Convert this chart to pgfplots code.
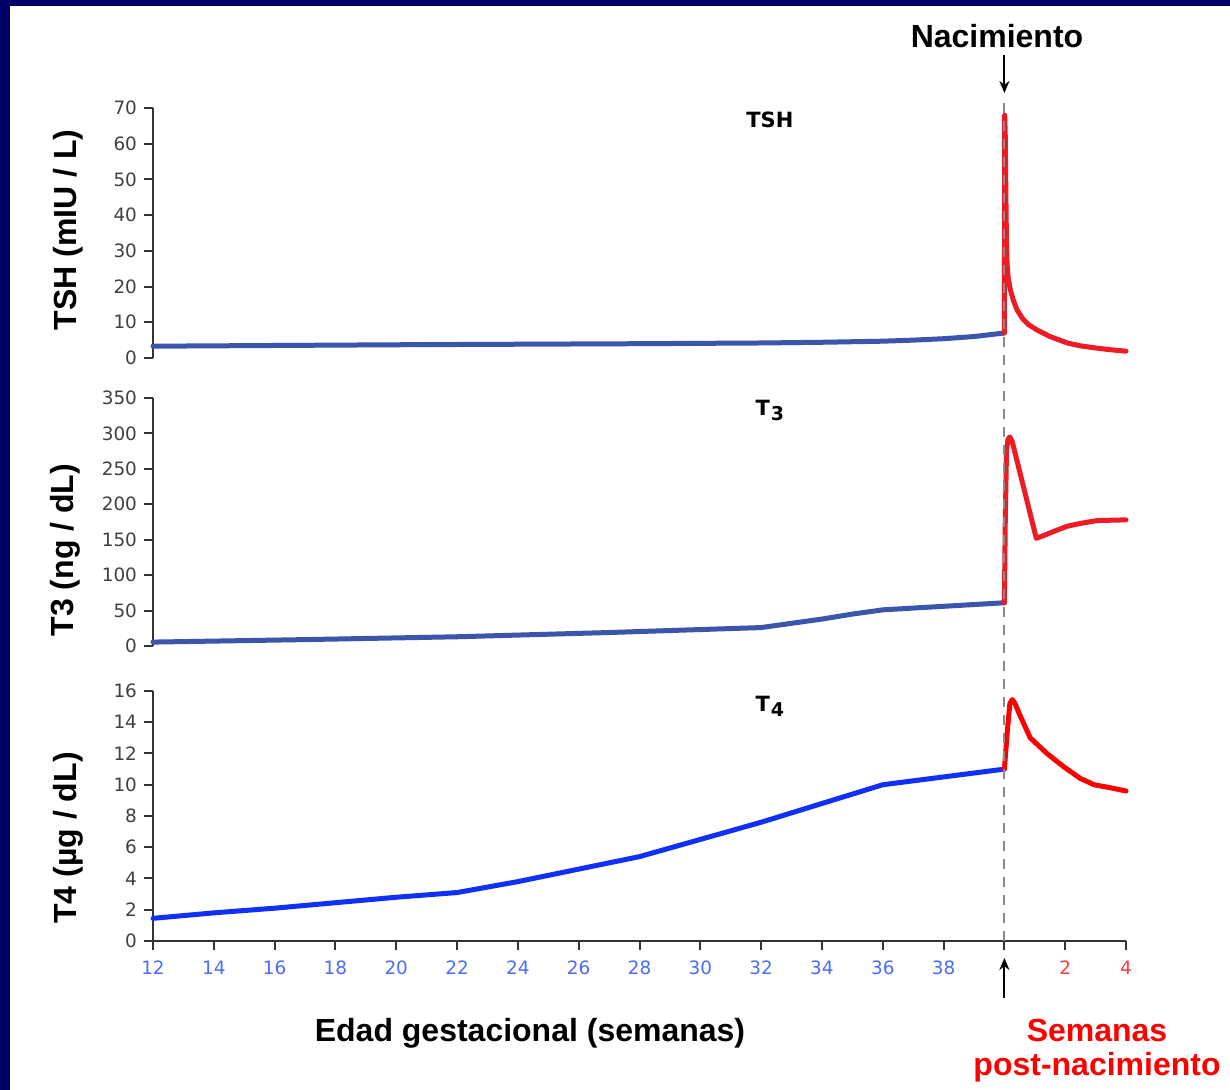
\documentclass[border=0pt]{standalone}
\usepackage{pgfplots}
\pgfplotsset{compat=1.18}
\usepackage{fontspec}
\setmainfont{Liberation Sans}
\newfontfamily\dv{DejaVu Sans}
\usetikzlibrary{arrows.meta}
\definecolor{navy}{HTML}{000066}
\definecolor{axisgray}{HTML}{333333}
\definecolor{tickgray}{HTML}{404040}
\definecolor{tickblue}{HTML}{4A6CFF}
\definecolor{tickred}{HTML}{FF3B3B}
\definecolor{curveblue}{HTML}{3A55AA}
\definecolor{t4blue}{HTML}{1030F8}
\definecolor{curvered}{HTML}{ED1C24}
\definecolor{dashgray}{HTML}{8A8A8A}

\tikzset{
  curve/.style={line width=2.5pt, line join=round, line cap=round},
  ttl/.style={font=\dv\bfseries\fontsize{10.5}{12}\selectfont},
}
\pgfplotsset{
  common/.style={
    scale only axis, width=486.5pt, xmin=12, xmax=44,
    axis y line*=left, tick align=outside, major tick length=4.5pt,
    axis line style={line width=1pt, color=axisgray},
    every tick/.style={line width=1pt, axisgray},
    yticklabel style={font=\dv\fontsize{9.2}{10}\selectfont, text=tickgray},
    xticklabel style={font=\dv\fontsize{9.2}{10}\selectfont, text=tickblue, yshift=-2pt},
    /pgf/number format/assume math mode=true,
    clip=false,
    every axis y label/.style={rotate=90, anchor=center, font=\bfseries\fontsize{16}{18}\selectfont},
  },
}

\begin{document}
\begin{tikzpicture}[x=1pt,y=1pt]
\useasboundingbox (0,0) rectangle (615,545);
\fill[white] (0,0) rectangle (615,545);
\fill[navy] (0,0) rectangle (5,545);
\fill[navy] (0,542) rectangle (615,545);

% ---------- TSH ----------
\begin{axis}[common, at={(76.5pt,366pt)}, anchor=south west, height=125pt,
  ymin=0, ymax=70, ytick={0,10,...,70}, axis x line=none, xtick=\empty,
  ylabel={TSH (mIU / L)},
  every axis y label/.append style={at={(axis description cs:-0.0874,0.512)}}]
\addplot[curve, curveblue] coordinates {
(12,3.3) (16,3.5) (20,3.7) (24,3.85) (28,4.0) (32,4.2) (34,4.4) (36,4.7) (37,5.0) (38,5.4) (39,6.0) (40,7.0)};
\addplot[curve, curvered] coordinates {
(40,7.0) (40.01,68) (40.03,62) (40.05,45) (40.07,32) (40.09,26) (40.13,22) (40.2,19) (40.3,16) (40.42,13.4) (40.6,11) (40.8,9.3) (41.08,7.8) (41.5,6.0) (42.07,4.2) (42.5,3.4) (43,2.8) (43.5,2.3) (44,1.9)};
\node[ttl] at (rel axis cs:0.634,0.952) {TSH};
\coordinate (btop) at (axis cs:40,73.6);
\end{axis}

% ---------- T3 ----------
\begin{axis}[common, at={(76.5pt,222pt)}, anchor=south west, height=124pt,
  ymin=0, ymax=350, ytick={0,50,...,350}, axis x line=none, xtick=\empty,
  ylabel={T3 (ng / dL)},
  every axis y label/.append style={at={(axis description cs:-0.09,0.387)}}]
\addplot[curve, curveblue] coordinates {
(12,5.5) (17,9) (22,13) (27,19) (32,26) (33,32) (34,38) (35,45) (36,51) (38,56) (40,61)};
\addplot[curve, curvered] coordinates {
(40,61) (40.03,180) (40.07,275) (40.12,292) (40.18,295) (40.26,288) (41.05,152) (41.3,156) (41.7,163) (42.07,169) (42.5,173) (43.05,177) (44,178)};
\node[ttl] at (rel axis cs:0.634,0.95) {T\kern0.5pt\raisebox{-2.5pt}{\fontsize{9.5}{10}\selectfont 3}};
\end{axis}

% ---------- T4 ----------
\begin{axis}[common, at={(76.5pt,74.5pt)}, anchor=south west, height=125pt,
  ymin=0, ymax=16, ytick={0,2,...,16}, axis x line*=bottom,
  xtick={12,14,...,44},
  xticklabels={12,14,16,18,20,22,24,26,28,30,32,34,36,38,,\textcolor{tickred}{2},\textcolor{tickred}{4}},
  ylabel={T4 (µg / dL)},
  every axis y label/.append style={at={(axis description cs:-0.0874,0.412)}}]
\addplot[curve, t4blue] coordinates {
(12,1.45) (14,1.8) (16,2.1) (18,2.45) (20,2.8) (22,3.1) (24,3.8) (26,4.6) (28,5.4) (30,6.5) (32,7.6) (34,8.8) (36,10.0) (38,10.5) (40,11.0)};
\addplot[curve, red] coordinates {
(40,11.0) (40.1,13.5) (40.18,15.2) (40.26,15.45) (40.35,15.2) (40.5,14.5) (40.85,13.0) (41.4,12.0) (41.95,11.15) (42.5,10.4) (42.95,10.0) (43.5,9.8) (44,9.6)};
\node[ttl] at (rel axis cs:0.634,0.94) {T\kern0.5pt\raisebox{-2.5pt}{\fontsize{9.5}{10}\selectfont 4}};
\coordinate (bbot) at (axis cs:40,0);
\end{axis}

\draw[dashgray, line width=1pt, dash pattern=on 5pt off 4pt] (bbot) -- (btop);
\draw[-{Stealth[length=6pt,width=5pt]}, line width=1pt] (502.2,517.5) -- (502.2,498.5);
\draw[-{Stealth[length=6pt,width=5pt]}, line width=1pt] (502.2,46) -- (502.2,66);

\node[font=\bfseries\fontsize{16}{18}\selectfont] at (498.5,527) {Nacimiento};
\node[font=\bfseries\fontsize{16}{18}\selectfont] at (265,28.5) {Edad gestacional (semanas)};
\node[font=\bfseries\fontsize{16}{18}\selectfont, text=red] at (548.5,30) {Semanas};
\node[font=\bfseries\fontsize{16}{18}\selectfont, text=red] at (548.5,11.5) {post-nacimiento};
\end{tikzpicture}
\end{document}
